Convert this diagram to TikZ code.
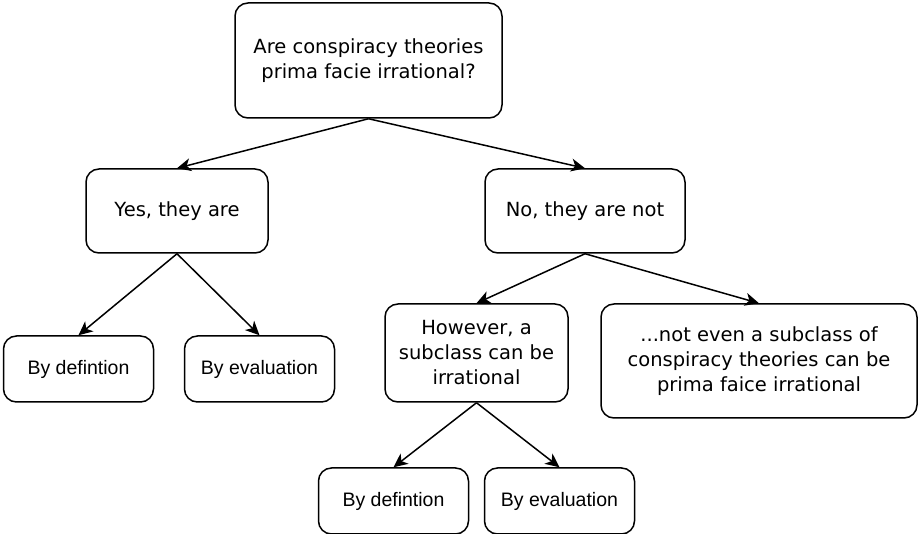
\documentclass[tikz,border=0pt]{standalone}
\usepackage{fontspec}
\setmainfont{DejaVu Sans}
\newfontfamily\helv{Liberation Sans}
\usetikzlibrary{arrows.meta}

\begin{document}
\begin{tikzpicture}[x=1pt, y=-1pt, line width=1.5pt,
        main/.style = {draw, rounded corners=13pt, align=center, inner sep=0pt, font=\fontsize{19.5}{25}\selectfont},
        leaf/.style = {main, font=\helv\fontsize{19.5}{25}\selectfont, minimum width=150pt, minimum height=66pt},
        arr/.style = {-{Stealth[length=14pt, width=13pt, inset=4pt]}}]
        \useasboundingbox (0,0) rectangle (919,534);
        \node[main, minimum width=267pt, minimum height=115pt] (1) at (368.5,60.5) {Are conspiracy theories\\prima facie irrational?};
        \node[main, minimum width=182pt, minimum height=84pt] (2) at (177,211) {Yes, they are};
        \node[main, minimum width=200pt, minimum height=84pt] (3) at (585,211) {No, they are not};
        \node[leaf] (4) at (78.5,369) {By defintion};
        \node[leaf] (5) at (259.5,369) {By evaluation};
        \node[main, minimum width=183pt, minimum height=98pt] (6) at (476.5,353) {However, a\\subclass can be\\irrational};
        \node[main, minimum width=316pt, minimum height=114pt] (7) at (759,361) {...not even a subclass of\\conspiracy theories can be\\prima faice irrational};
        \node[leaf] (8) at (393.5,501) {By defintion};
        \node[leaf] (9) at (559.5,501) {By evaluation};
        \draw[arr] (1.south) -- (2.north);
        \draw[arr] (1.south) -- (3.north);
        \draw[arr] (2.south) -- (4.north);
        \draw[arr] (2.south) -- (5.north);
        \draw[arr] (3.south) -- (6.north);
        \draw[arr] (3.south) -- (7.north);
        \draw[arr] (6.south) -- (8.north);
        \draw[arr] (6.south) -- (9.north);
    \end{tikzpicture}
\end{document}
